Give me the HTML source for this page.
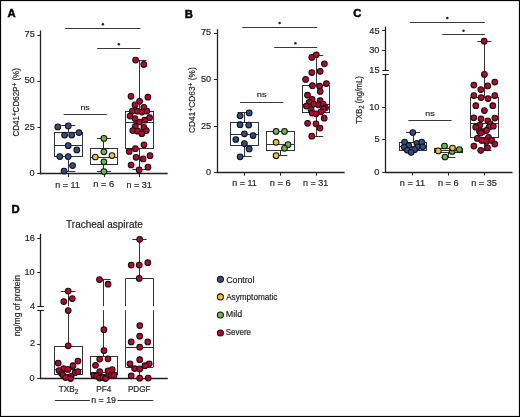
<!DOCTYPE html>
<html><head><meta charset="utf-8"><style>
html,body{margin:0;padding:0;background:#fff;}
body{width:520px;height:417px;overflow:hidden;}
svg{display:block;font-family:"Liberation Sans",sans-serif;will-change:transform;}
</style></head><body>
<svg width="520" height="417" viewBox="0 0 520 417">
<rect x="0.5" y="0.5" width="519" height="416" fill="#fff" stroke="#000" stroke-width="1.2"/>
<line x1="40.5" y1="30.5" x2="40.5" y2="174.4" stroke="#222" stroke-width="1.3"/>
<line x1="40.1" y1="173.5" x2="167.7" y2="173.5" stroke="#222" stroke-width="1.3"/>
<line x1="37.400000000000006" y1="173.5" x2="40.7" y2="173.5" stroke="#222" stroke-width="1"/>
<line x1="37.400000000000006" y1="127.5" x2="40.7" y2="127.5" stroke="#222" stroke-width="1"/>
<line x1="37.400000000000006" y1="81.5" x2="40.7" y2="81.5" stroke="#222" stroke-width="1"/>
<line x1="37.400000000000006" y1="35.5" x2="40.7" y2="35.5" stroke="#222" stroke-width="1"/>
<line x1="68.5" y1="173.8" x2="68.5" y2="177.10000000000002" stroke="#222" stroke-width="1"/>
<line x1="104.5" y1="173.8" x2="104.5" y2="177.10000000000002" stroke="#222" stroke-width="1"/>
<line x1="139.5" y1="173.8" x2="139.5" y2="177.10000000000002" stroke="#222" stroke-width="1"/>
<line x1="65.2" y1="28.5" x2="140.4" y2="28.5" stroke="#3a3a3a" stroke-width="1.2"/>
<circle cx="102.9" cy="24.3" r="1.25" fill="#222"/>
<line x1="97.2" y1="48.5" x2="140.4" y2="48.5" stroke="#3a3a3a" stroke-width="1.2"/>
<circle cx="118.8" cy="44.2" r="1.25" fill="#222"/>
<line x1="63.6" y1="114.5" x2="106.8" y2="114.5" stroke="#3a3a3a" stroke-width="1.2"/>
<line x1="68.5" y1="125.7" x2="68.5" y2="132.5" stroke="#333" stroke-width="1"/>
<line x1="68.5" y1="156.6" x2="68.5" y2="171.1" stroke="#333" stroke-width="1"/>
<line x1="61.3" y1="125.5" x2="75.3" y2="125.5" stroke="#333" stroke-width="1"/>
<line x1="61.3" y1="171.5" x2="75.3" y2="171.5" stroke="#333" stroke-width="1"/>
<rect x="54.5" y="132.5" width="28.00" height="24.00" fill="none" stroke="#333" stroke-width="1"/>
<line x1="54.599999999999994" y1="145.5" x2="82.0" y2="145.5" stroke="#333" stroke-width="1"/>
<circle cx="57.8" cy="126.9" r="2.85" fill="#2c4e8e" stroke="#111" stroke-width="1.05"/>
<circle cx="68.2" cy="125.9" r="2.85" fill="#2c4e8e" stroke="#111" stroke-width="1.05"/>
<circle cx="79" cy="132.6" r="2.85" fill="#2c4e8e" stroke="#111" stroke-width="1.05"/>
<circle cx="64.6" cy="135.1" r="2.85" fill="#2c4e8e" stroke="#111" stroke-width="1.05"/>
<circle cx="71.7" cy="135.1" r="2.85" fill="#2c4e8e" stroke="#111" stroke-width="1.05"/>
<circle cx="68.2" cy="145.7" r="2.85" fill="#2c4e8e" stroke="#111" stroke-width="1.05"/>
<circle cx="76.8" cy="149.9" r="2.85" fill="#2c4e8e" stroke="#111" stroke-width="1.05"/>
<circle cx="59.8" cy="156.6" r="2.85" fill="#2c4e8e" stroke="#111" stroke-width="1.05"/>
<circle cx="68.2" cy="156.6" r="2.85" fill="#2c4e8e" stroke="#111" stroke-width="1.05"/>
<circle cx="72.6" cy="165.6" r="2.85" fill="#2c4e8e" stroke="#111" stroke-width="1.05"/>
<circle cx="64" cy="171" r="2.85" fill="#2c4e8e" stroke="#111" stroke-width="1.05"/>
<line x1="103.5" y1="138.4" x2="103.5" y2="148.4" stroke="#333" stroke-width="1"/>
<line x1="103.5" y1="164.3" x2="103.5" y2="171.6" stroke="#333" stroke-width="1"/>
<line x1="96.9" y1="138.5" x2="110.9" y2="138.5" stroke="#333" stroke-width="1"/>
<line x1="96.9" y1="171.5" x2="110.9" y2="171.5" stroke="#333" stroke-width="1"/>
<rect x="90.5" y="148.5" width="27.00" height="16.00" fill="none" stroke="#333" stroke-width="1"/>
<line x1="90.2" y1="157.5" x2="117.60000000000001" y2="157.5" stroke="#333" stroke-width="1"/>
<circle cx="103.9" cy="138.4" r="2.85" fill="#6cb944" stroke="#111" stroke-width="1.05"/>
<circle cx="103.9" cy="151.8" r="2.85" fill="#6cb944" stroke="#111" stroke-width="1.05"/>
<circle cx="103.9" cy="161.8" r="2.85" fill="#6cb944" stroke="#111" stroke-width="1.05"/>
<circle cx="103.9" cy="171.6" r="2.85" fill="#6cb944" stroke="#111" stroke-width="1.05"/>
<circle cx="95.3" cy="157" r="2.85" fill="#f3c418" stroke="#111" stroke-width="1.05"/>
<circle cx="112" cy="155.6" r="2.85" fill="#f3c418" stroke="#111" stroke-width="1.05"/>
<line x1="139.5" y1="60.4" x2="139.5" y2="111.2" stroke="#333" stroke-width="1"/>
<line x1="139.5" y1="148.5" x2="139.5" y2="169.9" stroke="#333" stroke-width="1"/>
<line x1="132.5" y1="60.5" x2="146.5" y2="60.5" stroke="#333" stroke-width="1"/>
<line x1="132.5" y1="169.5" x2="146.5" y2="169.5" stroke="#333" stroke-width="1"/>
<rect x="125.5" y="111.5" width="28.00" height="37.00" fill="none" stroke="#333" stroke-width="1"/>
<line x1="125.8" y1="122.5" x2="153.2" y2="122.5" stroke="#333" stroke-width="1"/>
<circle cx="135.6" cy="60.1" r="2.85" fill="#be012d" stroke="#111" stroke-width="1.05"/>
<circle cx="143.8" cy="64.4" r="2.85" fill="#be012d" stroke="#111" stroke-width="1.05"/>
<circle cx="131" cy="96.3" r="2.85" fill="#be012d" stroke="#111" stroke-width="1.05"/>
<circle cx="147.9" cy="97.2" r="2.85" fill="#be012d" stroke="#111" stroke-width="1.05"/>
<circle cx="139.6" cy="101.3" r="2.85" fill="#be012d" stroke="#111" stroke-width="1.05"/>
<circle cx="135" cy="104.9" r="2.85" fill="#be012d" stroke="#111" stroke-width="1.05"/>
<circle cx="143.9" cy="107.4" r="2.85" fill="#be012d" stroke="#111" stroke-width="1.05"/>
<circle cx="132.3" cy="111" r="2.85" fill="#be012d" stroke="#111" stroke-width="1.05"/>
<circle cx="137.5" cy="111.2" r="2.85" fill="#be012d" stroke="#111" stroke-width="1.05"/>
<circle cx="142" cy="112.1" r="2.85" fill="#be012d" stroke="#111" stroke-width="1.05"/>
<circle cx="146.9" cy="111.2" r="2.85" fill="#be012d" stroke="#111" stroke-width="1.05"/>
<circle cx="130.1" cy="116.1" r="2.85" fill="#be012d" stroke="#111" stroke-width="1.05"/>
<circle cx="135" cy="118.5" r="2.85" fill="#be012d" stroke="#111" stroke-width="1.05"/>
<circle cx="149.6" cy="117.7" r="2.85" fill="#be012d" stroke="#111" stroke-width="1.05"/>
<circle cx="144.7" cy="120.2" r="2.85" fill="#be012d" stroke="#111" stroke-width="1.05"/>
<circle cx="139.6" cy="122" r="2.85" fill="#be012d" stroke="#111" stroke-width="1.05"/>
<circle cx="135.3" cy="126.3" r="2.85" fill="#be012d" stroke="#111" stroke-width="1.05"/>
<circle cx="143.9" cy="127.4" r="2.85" fill="#be012d" stroke="#111" stroke-width="1.05"/>
<circle cx="132.8" cy="130.6" r="2.85" fill="#be012d" stroke="#111" stroke-width="1.05"/>
<circle cx="137.7" cy="131.2" r="2.85" fill="#be012d" stroke="#111" stroke-width="1.05"/>
<circle cx="146.3" cy="130.6" r="2.85" fill="#be012d" stroke="#111" stroke-width="1.05"/>
<circle cx="141.8" cy="133.7" r="2.85" fill="#be012d" stroke="#111" stroke-width="1.05"/>
<circle cx="144" cy="144.8" r="2.85" fill="#be012d" stroke="#111" stroke-width="1.05"/>
<circle cx="135.4" cy="148.7" r="2.85" fill="#be012d" stroke="#111" stroke-width="1.05"/>
<circle cx="129.2" cy="151.4" r="2.85" fill="#be012d" stroke="#111" stroke-width="1.05"/>
<circle cx="136.1" cy="157.3" r="2.85" fill="#be012d" stroke="#111" stroke-width="1.05"/>
<circle cx="143.1" cy="158.9" r="2.85" fill="#be012d" stroke="#111" stroke-width="1.05"/>
<circle cx="150" cy="155.7" r="2.85" fill="#be012d" stroke="#111" stroke-width="1.05"/>
<circle cx="131.1" cy="165" r="2.85" fill="#be012d" stroke="#111" stroke-width="1.05"/>
<circle cx="148" cy="167.2" r="2.85" fill="#be012d" stroke="#111" stroke-width="1.05"/>
<circle cx="139.1" cy="169.9" r="2.85" fill="#be012d" stroke="#111" stroke-width="1.05"/>
<line x1="217.5" y1="29.2" x2="217.5" y2="173" stroke="#222" stroke-width="1.3"/>
<line x1="216.70000000000002" y1="172.5" x2="344.6" y2="172.5" stroke="#222" stroke-width="1.3"/>
<line x1="214.0" y1="172.5" x2="217.3" y2="172.5" stroke="#222" stroke-width="1"/>
<line x1="214.0" y1="126.5" x2="217.3" y2="126.5" stroke="#222" stroke-width="1"/>
<line x1="214.0" y1="79.5" x2="217.3" y2="79.5" stroke="#222" stroke-width="1"/>
<line x1="214.0" y1="33.5" x2="217.3" y2="33.5" stroke="#222" stroke-width="1"/>
<line x1="244.5" y1="172.4" x2="244.5" y2="175.70000000000002" stroke="#222" stroke-width="1"/>
<line x1="280.5" y1="172.4" x2="280.5" y2="175.70000000000002" stroke="#222" stroke-width="1"/>
<line x1="316.5" y1="172.4" x2="316.5" y2="175.70000000000002" stroke="#222" stroke-width="1"/>
<line x1="242.3" y1="27.5" x2="317.2" y2="27.5" stroke="#3a3a3a" stroke-width="1.2"/>
<circle cx="279.6" cy="23.05" r="1.25" fill="#222"/>
<line x1="274.2" y1="47.5" x2="317.2" y2="47.5" stroke="#3a3a3a" stroke-width="1.2"/>
<circle cx="295.4" cy="43.2" r="1.25" fill="#222"/>
<line x1="240.1" y1="102.5" x2="283.3" y2="102.5" stroke="#3a3a3a" stroke-width="1.2"/>
<line x1="244.5" y1="112.9" x2="244.5" y2="122.3" stroke="#333" stroke-width="1"/>
<line x1="244.5" y1="145.2" x2="244.5" y2="156.6" stroke="#333" stroke-width="1"/>
<line x1="237.6" y1="112.5" x2="251.6" y2="112.5" stroke="#333" stroke-width="1"/>
<line x1="237.6" y1="156.5" x2="251.6" y2="156.5" stroke="#333" stroke-width="1"/>
<rect x="230.5" y="122.5" width="28.00" height="23.00" fill="none" stroke="#333" stroke-width="1"/>
<line x1="230.9" y1="134.5" x2="258.3" y2="134.5" stroke="#333" stroke-width="1"/>
<circle cx="240.1" cy="115.8" r="2.85" fill="#2c4e8e" stroke="#111" stroke-width="1.05"/>
<circle cx="249.2" cy="112.9" r="2.85" fill="#2c4e8e" stroke="#111" stroke-width="1.05"/>
<circle cx="240.1" cy="124.7" r="2.85" fill="#2c4e8e" stroke="#111" stroke-width="1.05"/>
<circle cx="248.7" cy="125.1" r="2.85" fill="#2c4e8e" stroke="#111" stroke-width="1.05"/>
<circle cx="244.4" cy="133.8" r="2.85" fill="#2c4e8e" stroke="#111" stroke-width="1.05"/>
<circle cx="253.1" cy="135.6" r="2.85" fill="#2c4e8e" stroke="#111" stroke-width="1.05"/>
<circle cx="235.8" cy="139.5" r="2.85" fill="#2c4e8e" stroke="#111" stroke-width="1.05"/>
<circle cx="244.4" cy="143.6" r="2.85" fill="#2c4e8e" stroke="#111" stroke-width="1.05"/>
<circle cx="249.2" cy="148.9" r="2.85" fill="#2c4e8e" stroke="#111" stroke-width="1.05"/>
<circle cx="240.1" cy="156.8" r="2.85" fill="#2c4e8e" stroke="#111" stroke-width="1.05"/>
<line x1="280.4" y1="131.5" x2="280.4" y2="131.5" stroke="#333" stroke-width="1"/>
<line x1="280.5" y1="150" x2="280.5" y2="155.7" stroke="#333" stroke-width="1"/>
<line x1="273.4" y1="131.5" x2="287.4" y2="131.5" stroke="#333" stroke-width="1"/>
<line x1="273.4" y1="155.5" x2="287.4" y2="155.5" stroke="#333" stroke-width="1"/>
<rect x="266.5" y="131.5" width="28.00" height="19.00" fill="none" stroke="#333" stroke-width="1"/>
<line x1="266.7" y1="144.5" x2="294.09999999999997" y2="144.5" stroke="#333" stroke-width="1"/>
<circle cx="276.1" cy="131.4" r="2.85" fill="#6cb944" stroke="#111" stroke-width="1.05"/>
<circle cx="284.5" cy="131.4" r="2.85" fill="#6cb944" stroke="#111" stroke-width="1.05"/>
<circle cx="288" cy="144.7" r="2.85" fill="#6cb944" stroke="#111" stroke-width="1.05"/>
<circle cx="284.5" cy="148.3" r="2.85" fill="#6cb944" stroke="#111" stroke-width="1.05"/>
<circle cx="276.1" cy="142.3" r="2.85" fill="#f3c418" stroke="#111" stroke-width="1.05"/>
<circle cx="276.1" cy="155.7" r="2.85" fill="#f3c418" stroke="#111" stroke-width="1.05"/>
<line x1="316.5" y1="55" x2="316.5" y2="85.7" stroke="#333" stroke-width="1"/>
<line x1="316.5" y1="112.2" x2="316.5" y2="136.2" stroke="#333" stroke-width="1"/>
<line x1="309.2" y1="55.5" x2="323.2" y2="55.5" stroke="#333" stroke-width="1"/>
<line x1="309.2" y1="136.5" x2="323.2" y2="136.5" stroke="#333" stroke-width="1"/>
<rect x="302.5" y="85.5" width="27.00" height="27.00" fill="none" stroke="#333" stroke-width="1"/>
<line x1="302.5" y1="104.5" x2="329.9" y2="104.5" stroke="#333" stroke-width="1"/>
<circle cx="311.8" cy="57.4" r="2.85" fill="#be012d" stroke="#111" stroke-width="1.05"/>
<circle cx="316.3" cy="54.8" r="2.85" fill="#be012d" stroke="#111" stroke-width="1.05"/>
<circle cx="324.4" cy="63.8" r="2.85" fill="#be012d" stroke="#111" stroke-width="1.05"/>
<circle cx="311.8" cy="72.5" r="2.85" fill="#be012d" stroke="#111" stroke-width="1.05"/>
<circle cx="320.2" cy="71.3" r="2.85" fill="#be012d" stroke="#111" stroke-width="1.05"/>
<circle cx="305.6" cy="79.4" r="2.85" fill="#be012d" stroke="#111" stroke-width="1.05"/>
<circle cx="326.4" cy="83.6" r="2.85" fill="#be012d" stroke="#111" stroke-width="1.05"/>
<circle cx="312.4" cy="85.7" r="2.85" fill="#be012d" stroke="#111" stroke-width="1.05"/>
<circle cx="319.6" cy="86.2" r="2.85" fill="#be012d" stroke="#111" stroke-width="1.05"/>
<circle cx="320.2" cy="91.4" r="2.85" fill="#be012d" stroke="#111" stroke-width="1.05"/>
<circle cx="307.5" cy="95.2" r="2.85" fill="#be012d" stroke="#111" stroke-width="1.05"/>
<circle cx="312.1" cy="99.4" r="2.85" fill="#be012d" stroke="#111" stroke-width="1.05"/>
<circle cx="320.1" cy="100.7" r="2.85" fill="#be012d" stroke="#111" stroke-width="1.05"/>
<circle cx="309.1" cy="102.4" r="2.85" fill="#be012d" stroke="#111" stroke-width="1.05"/>
<circle cx="313.8" cy="104.1" r="2.85" fill="#be012d" stroke="#111" stroke-width="1.05"/>
<circle cx="318.5" cy="104.8" r="2.85" fill="#be012d" stroke="#111" stroke-width="1.05"/>
<circle cx="323.2" cy="104.1" r="2.85" fill="#be012d" stroke="#111" stroke-width="1.05"/>
<circle cx="306.4" cy="106.1" r="2.85" fill="#be012d" stroke="#111" stroke-width="1.05"/>
<circle cx="325.5" cy="107.8" r="2.85" fill="#be012d" stroke="#111" stroke-width="1.05"/>
<circle cx="311.1" cy="109.4" r="2.85" fill="#be012d" stroke="#111" stroke-width="1.05"/>
<circle cx="323.5" cy="108.8" r="2.85" fill="#be012d" stroke="#111" stroke-width="1.05"/>
<circle cx="321.1" cy="111.8" r="2.85" fill="#be012d" stroke="#111" stroke-width="1.05"/>
<circle cx="312.1" cy="113.1" r="2.85" fill="#be012d" stroke="#111" stroke-width="1.05"/>
<circle cx="316.1" cy="113.8" r="2.85" fill="#be012d" stroke="#111" stroke-width="1.05"/>
<circle cx="324.2" cy="118.2" r="2.85" fill="#be012d" stroke="#111" stroke-width="1.05"/>
<circle cx="307.6" cy="123.3" r="2.85" fill="#be012d" stroke="#111" stroke-width="1.05"/>
<circle cx="316" cy="123.8" r="2.85" fill="#be012d" stroke="#111" stroke-width="1.05"/>
<circle cx="320" cy="128.1" r="2.85" fill="#be012d" stroke="#111" stroke-width="1.05"/>
<circle cx="311.8" cy="136.2" r="2.85" fill="#be012d" stroke="#111" stroke-width="1.05"/>
<line x1="385.5" y1="26.6" x2="385.5" y2="70.6" stroke="#222" stroke-width="1.3"/>
<line x1="385.5" y1="74.5" x2="385.5" y2="172.8" stroke="#222" stroke-width="1.3"/>
<line x1="382.4" y1="70.5" x2="388.8" y2="70.5" stroke="#222" stroke-width="1.1"/>
<line x1="382.4" y1="74.5" x2="388.8" y2="74.5" stroke="#222" stroke-width="1.1"/>
<line x1="384.9" y1="172.5" x2="512.5" y2="172.5" stroke="#222" stroke-width="1.3"/>
<line x1="382.2" y1="30.5" x2="385.5" y2="30.5" stroke="#222" stroke-width="1"/>
<line x1="382.2" y1="50.5" x2="385.5" y2="50.5" stroke="#222" stroke-width="1"/>
<line x1="382.2" y1="107.5" x2="385.5" y2="107.5" stroke="#222" stroke-width="1"/>
<line x1="382.2" y1="139.5" x2="385.5" y2="139.5" stroke="#222" stroke-width="1"/>
<line x1="382.2" y1="172.5" x2="385.5" y2="172.5" stroke="#222" stroke-width="1"/>
<line x1="412.5" y1="172.2" x2="412.5" y2="175.5" stroke="#222" stroke-width="1"/>
<line x1="448.5" y1="172.2" x2="448.5" y2="175.5" stroke="#222" stroke-width="1"/>
<line x1="484.5" y1="172.2" x2="484.5" y2="175.5" stroke="#222" stroke-width="1"/>
<line x1="409.9" y1="22.5" x2="484.9" y2="22.5" stroke="#3a3a3a" stroke-width="1.2"/>
<circle cx="447.3" cy="18.1" r="1.25" fill="#222"/>
<line x1="442.2" y1="34.5" x2="484.9" y2="34.5" stroke="#3a3a3a" stroke-width="1.2"/>
<circle cx="463.5" cy="30.8" r="1.25" fill="#222"/>
<line x1="408.4" y1="120.5" x2="451.6" y2="120.5" stroke="#3a3a3a" stroke-width="1.2"/>
<line x1="413.5" y1="132.5" x2="413.5" y2="142.3" stroke="#333" stroke-width="1"/>
<line x1="413" y1="150.5" x2="413" y2="150.5" stroke="#333" stroke-width="1"/>
<line x1="406" y1="132.5" x2="420" y2="132.5" stroke="#333" stroke-width="1"/>
<line x1="406" y1="150.5" x2="420" y2="150.5" stroke="#333" stroke-width="1"/>
<rect x="399.5" y="142.5" width="27.00" height="8.00" fill="none" stroke="#333" stroke-width="1"/>
<line x1="399.3" y1="146.5" x2="426.7" y2="146.5" stroke="#333" stroke-width="1"/>
<circle cx="412.8" cy="132.5" r="2.85" fill="#2c4e8e" stroke="#111" stroke-width="1.05"/>
<circle cx="404.6" cy="142.2" r="2.85" fill="#2c4e8e" stroke="#111" stroke-width="1.05"/>
<circle cx="417" cy="143.4" r="2.85" fill="#2c4e8e" stroke="#111" stroke-width="1.05"/>
<circle cx="421.7" cy="142.2" r="2.85" fill="#2c4e8e" stroke="#111" stroke-width="1.05"/>
<circle cx="408.8" cy="145.5" r="2.85" fill="#2c4e8e" stroke="#111" stroke-width="1.05"/>
<circle cx="404.1" cy="147" r="2.85" fill="#2c4e8e" stroke="#111" stroke-width="1.05"/>
<circle cx="417.6" cy="146.8" r="2.85" fill="#2c4e8e" stroke="#111" stroke-width="1.05"/>
<circle cx="422.7" cy="146.8" r="2.85" fill="#2c4e8e" stroke="#111" stroke-width="1.05"/>
<circle cx="407.4" cy="150.2" r="2.85" fill="#2c4e8e" stroke="#111" stroke-width="1.05"/>
<circle cx="414.5" cy="149.7" r="2.85" fill="#2c4e8e" stroke="#111" stroke-width="1.05"/>
<circle cx="411.1" cy="152.3" r="2.85" fill="#2c4e8e" stroke="#111" stroke-width="1.05"/>
<line x1="448.3" y1="148.5" x2="448.3" y2="148.5" stroke="#333" stroke-width="1"/>
<line x1="448.5" y1="152.8" x2="448.5" y2="157" stroke="#333" stroke-width="1"/>
<line x1="441.3" y1="148.5" x2="455.3" y2="148.5" stroke="#333" stroke-width="1"/>
<line x1="441.3" y1="157.5" x2="455.3" y2="157.5" stroke="#333" stroke-width="1"/>
<rect x="434.5" y="148.5" width="28.00" height="4.00" fill="none" stroke="#333" stroke-width="1"/>
<line x1="434.6" y1="150.5" x2="462.0" y2="150.5" stroke="#333" stroke-width="1"/>
<circle cx="444.5" cy="146" r="2.85" fill="#6cb944" stroke="#111" stroke-width="1.05"/>
<circle cx="452.1" cy="151.4" r="2.85" fill="#6cb944" stroke="#111" stroke-width="1.05"/>
<circle cx="459.4" cy="149.5" r="2.85" fill="#6cb944" stroke="#111" stroke-width="1.05"/>
<circle cx="445" cy="157" r="2.85" fill="#6cb944" stroke="#111" stroke-width="1.05"/>
<circle cx="438.3" cy="150.9" r="2.85" fill="#f3c418" stroke="#111" stroke-width="1.05"/>
<circle cx="452.5" cy="148" r="2.85" fill="#f3c418" stroke="#111" stroke-width="1.05"/>
<line x1="484.5" y1="41.2" x2="484.5" y2="97.6" stroke="#333" stroke-width="1"/>
<line x1="484.5" y1="137.3" x2="484.5" y2="150.2" stroke="#333" stroke-width="1"/>
<line x1="477.4" y1="41.5" x2="491.4" y2="41.5" stroke="#333" stroke-width="1"/>
<line x1="477.4" y1="150.5" x2="491.4" y2="150.5" stroke="#333" stroke-width="1"/>
<rect x="470.5" y="97.5" width="28.00" height="40.00" fill="none" stroke="#333" stroke-width="1"/>
<line x1="470.7" y1="123.5" x2="498.09999999999997" y2="123.5" stroke="#333" stroke-width="1"/>
<circle cx="484.2" cy="41.2" r="2.85" fill="#be012d" stroke="#111" stroke-width="1.05"/>
<circle cx="484.4" cy="74.4" r="2.85" fill="#be012d" stroke="#111" stroke-width="1.05"/>
<circle cx="473.9" cy="85.1" r="2.85" fill="#be012d" stroke="#111" stroke-width="1.05"/>
<circle cx="494.8" cy="82" r="2.85" fill="#be012d" stroke="#111" stroke-width="1.05"/>
<circle cx="487.7" cy="85.9" r="2.85" fill="#be012d" stroke="#111" stroke-width="1.05"/>
<circle cx="480.8" cy="89.5" r="2.85" fill="#be012d" stroke="#111" stroke-width="1.05"/>
<circle cx="473.9" cy="95.6" r="2.85" fill="#be012d" stroke="#111" stroke-width="1.05"/>
<circle cx="481.1" cy="97.6" r="2.85" fill="#be012d" stroke="#111" stroke-width="1.05"/>
<circle cx="488" cy="98.5" r="2.85" fill="#be012d" stroke="#111" stroke-width="1.05"/>
<circle cx="494.8" cy="95.6" r="2.85" fill="#be012d" stroke="#111" stroke-width="1.05"/>
<circle cx="475.8" cy="105.7" r="2.85" fill="#be012d" stroke="#111" stroke-width="1.05"/>
<circle cx="492.8" cy="105.7" r="2.85" fill="#be012d" stroke="#111" stroke-width="1.05"/>
<circle cx="484.4" cy="110.6" r="2.85" fill="#be012d" stroke="#111" stroke-width="1.05"/>
<circle cx="473.8" cy="117.8" r="2.85" fill="#be012d" stroke="#111" stroke-width="1.05"/>
<circle cx="481" cy="118.8" r="2.85" fill="#be012d" stroke="#111" stroke-width="1.05"/>
<circle cx="494.9" cy="118" r="2.85" fill="#be012d" stroke="#111" stroke-width="1.05"/>
<circle cx="487.8" cy="120.8" r="2.85" fill="#be012d" stroke="#111" stroke-width="1.05"/>
<circle cx="490.3" cy="123.9" r="2.85" fill="#be012d" stroke="#111" stroke-width="1.05"/>
<circle cx="479.9" cy="125" r="2.85" fill="#be012d" stroke="#111" stroke-width="1.05"/>
<circle cx="475.7" cy="127.2" r="2.85" fill="#be012d" stroke="#111" stroke-width="1.05"/>
<circle cx="489.1" cy="127" r="2.85" fill="#be012d" stroke="#111" stroke-width="1.05"/>
<circle cx="493.3" cy="126.2" r="2.85" fill="#be012d" stroke="#111" stroke-width="1.05"/>
<circle cx="479.5" cy="131.2" r="2.85" fill="#be012d" stroke="#111" stroke-width="1.05"/>
<circle cx="483" cy="131.6" r="2.85" fill="#be012d" stroke="#111" stroke-width="1.05"/>
<circle cx="486.4" cy="130.4" r="2.85" fill="#be012d" stroke="#111" stroke-width="1.05"/>
<circle cx="480.7" cy="133.1" r="2.85" fill="#be012d" stroke="#111" stroke-width="1.05"/>
<circle cx="488.5" cy="137.4" r="2.85" fill="#be012d" stroke="#111" stroke-width="1.05"/>
<circle cx="477.3" cy="138.4" r="2.85" fill="#be012d" stroke="#111" stroke-width="1.05"/>
<circle cx="481.8" cy="140.4" r="2.85" fill="#be012d" stroke="#111" stroke-width="1.05"/>
<circle cx="486.5" cy="141.4" r="2.85" fill="#be012d" stroke="#111" stroke-width="1.05"/>
<circle cx="491.8" cy="140.4" r="2.85" fill="#be012d" stroke="#111" stroke-width="1.05"/>
<circle cx="494.8" cy="144.1" r="2.85" fill="#be012d" stroke="#111" stroke-width="1.05"/>
<circle cx="473.9" cy="146.1" r="2.85" fill="#be012d" stroke="#111" stroke-width="1.05"/>
<circle cx="480.8" cy="150.3" r="2.85" fill="#be012d" stroke="#111" stroke-width="1.05"/>
<circle cx="487.5" cy="147.8" r="2.85" fill="#be012d" stroke="#111" stroke-width="1.05"/>
<line x1="40.5" y1="233.8" x2="40.5" y2="306.8" stroke="#222" stroke-width="1.3"/>
<line x1="40.5" y1="310.2" x2="40.5" y2="378.9" stroke="#222" stroke-width="1.3"/>
<line x1="37.3" y1="306.5" x2="43.9" y2="306.5" stroke="#222" stroke-width="1.1"/>
<line x1="37.3" y1="310.5" x2="43.9" y2="310.5" stroke="#222" stroke-width="1.1"/>
<line x1="39.9" y1="378.5" x2="167.8" y2="378.5" stroke="#222" stroke-width="1.3"/>
<line x1="37.2" y1="238.5" x2="40.5" y2="238.5" stroke="#222" stroke-width="1"/>
<line x1="37.2" y1="272.5" x2="40.5" y2="272.5" stroke="#222" stroke-width="1"/>
<line x1="37.2" y1="344.5" x2="40.5" y2="344.5" stroke="#222" stroke-width="1"/>
<line x1="37.2" y1="378.5" x2="40.5" y2="378.5" stroke="#222" stroke-width="1"/>
<line x1="54.9" y1="400.5" x2="89.8" y2="400.5" stroke="#333" stroke-width="1.1"/>
<line x1="117.6" y1="400.5" x2="153.3" y2="400.5" stroke="#333" stroke-width="1.1"/>
<line x1="60.8" y1="291.5" x2="75.6" y2="291.5" stroke="#333" stroke-width="1"/>
<line x1="68.5" y1="291.1" x2="68.5" y2="306.3" stroke="#333" stroke-width="1"/>
<line x1="68.5" y1="310.2" x2="68.5" y2="346.5" stroke="#333" stroke-width="1"/>
<rect x="54.5" y="346.5" width="28.00" height="28.00" fill="none" stroke="#333" stroke-width="1"/>
<line x1="54.3" y1="369.5" x2="82" y2="369.5" stroke="#333" stroke-width="1"/>
<circle cx="68.2" cy="291.1" r="2.85" fill="#be012d" stroke="#111" stroke-width="1.05"/>
<circle cx="72.3" cy="298.5" r="2.85" fill="#be012d" stroke="#111" stroke-width="1.05"/>
<circle cx="63.8" cy="301.5" r="2.85" fill="#be012d" stroke="#111" stroke-width="1.05"/>
<circle cx="68.2" cy="310.5" r="2.85" fill="#be012d" stroke="#111" stroke-width="1.05"/>
<circle cx="68.2" cy="345.8" r="2.85" fill="#be012d" stroke="#111" stroke-width="1.05"/>
<circle cx="58.2" cy="363" r="2.85" fill="#be012d" stroke="#111" stroke-width="1.05"/>
<circle cx="78" cy="361.1" r="2.85" fill="#be012d" stroke="#111" stroke-width="1.05"/>
<circle cx="73" cy="365.7" r="2.85" fill="#be012d" stroke="#111" stroke-width="1.05"/>
<circle cx="63.5" cy="368.5" r="2.85" fill="#be012d" stroke="#111" stroke-width="1.05"/>
<circle cx="68" cy="369.4" r="2.85" fill="#be012d" stroke="#111" stroke-width="1.05"/>
<circle cx="59" cy="370.6" r="2.85" fill="#be012d" stroke="#111" stroke-width="1.05"/>
<circle cx="75.1" cy="372.7" r="2.85" fill="#be012d" stroke="#111" stroke-width="1.05"/>
<circle cx="78" cy="371.7" r="2.85" fill="#be012d" stroke="#111" stroke-width="1.05"/>
<circle cx="61.6" cy="373.6" r="2.85" fill="#be012d" stroke="#111" stroke-width="1.05"/>
<circle cx="63" cy="375" r="2.85" fill="#be012d" stroke="#111" stroke-width="1.05"/>
<circle cx="65.6" cy="377.5" r="2.85" fill="#be012d" stroke="#111" stroke-width="1.05"/>
<circle cx="71.1" cy="376.4" r="2.85" fill="#be012d" stroke="#111" stroke-width="1.05"/>
<circle cx="70.6" cy="378.5" r="2.85" fill="#be012d" stroke="#111" stroke-width="1.05"/>
<line x1="96.8" y1="279.5" x2="110.6" y2="279.5" stroke="#333" stroke-width="1"/>
<line x1="103.5" y1="279.5" x2="103.5" y2="306.3" stroke="#333" stroke-width="1"/>
<line x1="103.5" y1="310.2" x2="103.5" y2="356.5" stroke="#333" stroke-width="1"/>
<rect x="90.5" y="356.5" width="27.00" height="18.00" fill="none" stroke="#333" stroke-width="1"/>
<line x1="90.3" y1="372.5" x2="117.8" y2="372.5" stroke="#333" stroke-width="1"/>
<circle cx="99.5" cy="279.5" r="2.85" fill="#be012d" stroke="#111" stroke-width="1.05"/>
<circle cx="108.1" cy="284.2" r="2.85" fill="#be012d" stroke="#111" stroke-width="1.05"/>
<circle cx="103.9" cy="329.7" r="2.85" fill="#be012d" stroke="#111" stroke-width="1.05"/>
<circle cx="104" cy="350.6" r="2.85" fill="#be012d" stroke="#111" stroke-width="1.05"/>
<circle cx="99.7" cy="359" r="2.85" fill="#be012d" stroke="#111" stroke-width="1.05"/>
<circle cx="108" cy="358.8" r="2.85" fill="#be012d" stroke="#111" stroke-width="1.05"/>
<circle cx="95.5" cy="365.3" r="2.85" fill="#be012d" stroke="#111" stroke-width="1.05"/>
<circle cx="99.7" cy="371.5" r="2.85" fill="#be012d" stroke="#111" stroke-width="1.05"/>
<circle cx="108" cy="370.8" r="2.85" fill="#be012d" stroke="#111" stroke-width="1.05"/>
<circle cx="112.2" cy="369.6" r="2.85" fill="#be012d" stroke="#111" stroke-width="1.05"/>
<circle cx="93.9" cy="375.4" r="2.85" fill="#be012d" stroke="#111" stroke-width="1.05"/>
<circle cx="96.6" cy="375.9" r="2.85" fill="#be012d" stroke="#111" stroke-width="1.05"/>
<circle cx="99.5" cy="378" r="2.85" fill="#be012d" stroke="#111" stroke-width="1.05"/>
<circle cx="102.9" cy="377.5" r="2.85" fill="#be012d" stroke="#111" stroke-width="1.05"/>
<circle cx="107.6" cy="376.4" r="2.85" fill="#be012d" stroke="#111" stroke-width="1.05"/>
<circle cx="111.3" cy="375.4" r="2.85" fill="#be012d" stroke="#111" stroke-width="1.05"/>
<circle cx="114" cy="375.4" r="2.85" fill="#be012d" stroke="#111" stroke-width="1.05"/>
<circle cx="105.5" cy="378.5" r="2.85" fill="#be012d" stroke="#111" stroke-width="1.05"/>
<line x1="132.3" y1="239.5" x2="146.6" y2="239.5" stroke="#333" stroke-width="1"/>
<line x1="139.5" y1="239.3" x2="139.5" y2="278.4" stroke="#333" stroke-width="1"/>
<line x1="125.9" y1="278.5" x2="153.1" y2="278.5" stroke="#333" stroke-width="1"/>
<line x1="125.5" y1="278.4" x2="125.5" y2="306.3" stroke="#333" stroke-width="1"/>
<line x1="153.5" y1="278.4" x2="153.5" y2="306.3" stroke="#333" stroke-width="1"/>
<line x1="125.5" y1="310.2" x2="125.5" y2="367.3" stroke="#333" stroke-width="1"/>
<line x1="153.5" y1="310.2" x2="153.5" y2="367.3" stroke="#333" stroke-width="1"/>
<line x1="125.9" y1="367.5" x2="153.1" y2="367.5" stroke="#333" stroke-width="1"/>
<line x1="125.9" y1="347.5" x2="153.1" y2="347.5" stroke="#333" stroke-width="1"/>
<line x1="139.5" y1="367.3" x2="139.5" y2="378" stroke="#333" stroke-width="1"/>
<circle cx="139.7" cy="239.3" r="2.85" fill="#be012d" stroke="#111" stroke-width="1.05"/>
<circle cx="131.2" cy="265" r="2.85" fill="#be012d" stroke="#111" stroke-width="1.05"/>
<circle cx="139.2" cy="265" r="2.85" fill="#be012d" stroke="#111" stroke-width="1.05"/>
<circle cx="147.8" cy="262.7" r="2.85" fill="#be012d" stroke="#111" stroke-width="1.05"/>
<circle cx="139.2" cy="278.4" r="2.85" fill="#be012d" stroke="#111" stroke-width="1.05"/>
<circle cx="139.8" cy="325.6" r="2.85" fill="#be012d" stroke="#111" stroke-width="1.05"/>
<circle cx="139.7" cy="336.2" r="2.85" fill="#be012d" stroke="#111" stroke-width="1.05"/>
<circle cx="131.2" cy="341.9" r="2.85" fill="#be012d" stroke="#111" stroke-width="1.05"/>
<circle cx="147.8" cy="341.9" r="2.85" fill="#be012d" stroke="#111" stroke-width="1.05"/>
<circle cx="139.7" cy="347.2" r="2.85" fill="#be012d" stroke="#111" stroke-width="1.05"/>
<circle cx="139.7" cy="359.7" r="2.85" fill="#be012d" stroke="#111" stroke-width="1.05"/>
<circle cx="130" cy="363.8" r="2.85" fill="#be012d" stroke="#111" stroke-width="1.05"/>
<circle cx="149.2" cy="363.8" r="2.85" fill="#be012d" stroke="#111" stroke-width="1.05"/>
<circle cx="134.6" cy="368.5" r="2.85" fill="#be012d" stroke="#111" stroke-width="1.05"/>
<circle cx="139.7" cy="368.9" r="2.85" fill="#be012d" stroke="#111" stroke-width="1.05"/>
<circle cx="145" cy="365.7" r="2.85" fill="#be012d" stroke="#111" stroke-width="1.05"/>
<circle cx="131.2" cy="375.8" r="2.85" fill="#be012d" stroke="#111" stroke-width="1.05"/>
<circle cx="139.7" cy="378.2" r="2.85" fill="#be012d" stroke="#111" stroke-width="1.05"/>
<circle cx="148.2" cy="378" r="2.85" fill="#be012d" stroke="#111" stroke-width="1.05"/>
<circle cx="220.4" cy="279.3" r="3.0500000000000003" fill="#2c4e8e" stroke="#111" stroke-width="1.05"/>
<circle cx="220.4" cy="296.9" r="3.0500000000000003" fill="#f3c418" stroke="#111" stroke-width="1.05"/>
<circle cx="220.4" cy="315" r="3.0500000000000003" fill="#6cb944" stroke="#111" stroke-width="1.05"/>
<circle cx="220.4" cy="333" r="3.0500000000000003" fill="#be012d" stroke="#111" stroke-width="1.05"/>
<text id="lA" x="7.60" y="17.40" font-size="11.30" text-anchor="start" font-weight="bold" fill="#000" stroke="#000" stroke-width="0.45">A</text>
<text id="lB" x="184.70" y="17.60" font-size="11.30" text-anchor="start" font-weight="bold" fill="#000" stroke="#000" stroke-width="0.45">B</text>
<text id="lC" x="353.20" y="17.40" font-size="11.30" text-anchor="start" font-weight="bold" fill="#000" stroke="#000" stroke-width="0.45">C</text>
<text id="lD" x="11.50" y="213.40" font-size="11.30" text-anchor="start" font-weight="bold" fill="#000" stroke="#000" stroke-width="0.45">D</text>
<text id="tA0" x="34.72" y="175.62" font-size="9.20" text-anchor="end" font-weight="normal" fill="#262626" stroke="#262626" stroke-width="0.18">0</text>
<text id="tA25" x="34.81" y="129.70" font-size="9.20" text-anchor="end" font-weight="normal" fill="#262626" stroke="#262626" stroke-width="0.18">25</text>
<text id="tA50" x="34.72" y="83.05" font-size="9.20" text-anchor="end" font-weight="normal" fill="#262626" stroke="#262626" stroke-width="0.18">50</text>
<text id="tA75" x="34.81" y="37.40" font-size="9.20" text-anchor="end" font-weight="normal" fill="#262626" stroke="#262626" stroke-width="0.18">75</text>
<text id="tB0" x="211.14" y="175.11" font-size="9.20" text-anchor="end" font-weight="normal" fill="#262626" stroke="#262626" stroke-width="0.18">0</text>
<text id="tB25" x="211.14" y="128.51" font-size="9.20" text-anchor="end" font-weight="normal" fill="#262626" stroke="#262626" stroke-width="0.18">25</text>
<text id="tB50" x="211.14" y="81.81" font-size="9.20" text-anchor="end" font-weight="normal" fill="#262626" stroke="#262626" stroke-width="0.18">50</text>
<text id="tB75" x="211.14" y="35.45" font-size="9.20" text-anchor="end" font-weight="normal" fill="#262626" stroke="#262626" stroke-width="0.18">75</text>
<text id="tC45" x="379.58" y="33.59" font-size="9.20" text-anchor="end" font-weight="normal" fill="#262626" stroke="#262626" stroke-width="0.18">45</text>
<text id="tC30" x="379.49" y="53.12" font-size="9.20" text-anchor="end" font-weight="normal" fill="#262626" stroke="#262626" stroke-width="0.18">30</text>
<text id="tC15" x="379.58" y="72.87" font-size="9.20" text-anchor="end" font-weight="normal" fill="#262626" stroke="#262626" stroke-width="0.18">15</text>
<text id="tC10" x="379.49" y="109.63" font-size="9.20" text-anchor="end" font-weight="normal" fill="#262626" stroke="#262626" stroke-width="0.18">10</text>
<text id="tC5" x="379.58" y="142.29" font-size="9.20" text-anchor="end" font-weight="normal" fill="#262626" stroke="#262626" stroke-width="0.18">5</text>
<text id="tC0" x="379.49" y="174.62" font-size="9.20" text-anchor="end" font-weight="normal" fill="#262626" stroke="#262626" stroke-width="0.18">0</text>
<text id="tD16" x="34.98" y="240.58" font-size="9.20" text-anchor="end" font-weight="normal" fill="#262626" stroke="#262626" stroke-width="0.18">16</text>
<text id="tD10" x="34.73" y="274.91" font-size="9.20" text-anchor="end" font-weight="normal" fill="#262626" stroke="#262626" stroke-width="0.18">10</text>
<text id="tD4" x="35.04" y="308.92" font-size="9.20" text-anchor="end" font-weight="normal" fill="#262626" stroke="#262626" stroke-width="0.18">4</text>
<text id="tD2" x="35.01" y="346.20" font-size="9.20" text-anchor="end" font-weight="normal" fill="#262626" stroke="#262626" stroke-width="0.18">2</text>
<text id="tD0" x="34.73" y="381.01" font-size="9.20" text-anchor="end" font-weight="normal" fill="#262626" stroke="#262626" stroke-width="0.18">0</text>
<text id="nA1" x="67.44" y="187.84" font-size="8.60" text-anchor="middle" font-weight="normal" fill="#262626" textLength="24.58" lengthAdjust="spacingAndGlyphs" stroke="#262626" stroke-width="0.18">n = 11</text>
<text id="nA2" x="103.72" y="187.47" font-size="8.60" text-anchor="middle" font-weight="normal" fill="#262626" textLength="20.91" lengthAdjust="spacingAndGlyphs" stroke="#262626" stroke-width="0.18">n = 6</text>
<text id="nA3" x="139.23" y="187.80" font-size="8.60" text-anchor="middle" font-weight="normal" fill="#262626" textLength="25.23" lengthAdjust="spacingAndGlyphs" stroke="#262626" stroke-width="0.18">n = 31</text>
<text id="nB1" x="244.44" y="186.46" font-size="8.60" text-anchor="middle" font-weight="normal" fill="#262626" textLength="24.58" lengthAdjust="spacingAndGlyphs" stroke="#262626" stroke-width="0.18">n = 11</text>
<text id="nB2" x="280.23" y="186.24" font-size="8.60" text-anchor="middle" font-weight="normal" fill="#262626" textLength="21.04" lengthAdjust="spacingAndGlyphs" stroke="#262626" stroke-width="0.18">n = 6</text>
<text id="nB3" x="315.59" y="185.96" font-size="8.60" text-anchor="middle" font-weight="normal" fill="#262626" textLength="25.20" lengthAdjust="spacingAndGlyphs" stroke="#262626" stroke-width="0.18">n = 31</text>
<text id="nC1" x="412.46" y="185.99" font-size="8.60" text-anchor="middle" font-weight="normal" fill="#262626" textLength="25.16" lengthAdjust="spacingAndGlyphs" stroke="#262626" stroke-width="0.18">n = 11</text>
<text id="nC2" x="448.27" y="186.31" font-size="8.60" text-anchor="middle" font-weight="normal" fill="#262626" textLength="20.73" lengthAdjust="spacingAndGlyphs" stroke="#262626" stroke-width="0.18">n = 6</text>
<text id="nC3" x="483.98" y="186.38" font-size="8.60" text-anchor="middle" font-weight="normal" fill="#262626" textLength="25.67" lengthAdjust="spacingAndGlyphs" stroke="#262626" stroke-width="0.18">n = 35</text>
<text id="nD" x="103.62" y="403.00" font-size="8.60" text-anchor="middle" font-weight="normal" fill="#262626" textLength="24.86" lengthAdjust="spacingAndGlyphs" stroke="#262626" stroke-width="0.18">n = 19</text>
<text id="nsA" x="85.13" y="109.54" font-size="7.80" text-anchor="middle" font-weight="normal" fill="#262626" textLength="9.22" lengthAdjust="spacingAndGlyphs" stroke="#262626" stroke-width="0.18">ns</text>
<text id="nsB" x="261.75" y="97.08" font-size="7.80" text-anchor="middle" font-weight="normal" fill="#262626" textLength="9.81" lengthAdjust="spacingAndGlyphs" stroke="#262626" stroke-width="0.18">ns</text>
<text id="nsC" x="429.93" y="115.65" font-size="7.80" text-anchor="middle" font-weight="normal" fill="#262626" textLength="9.47" lengthAdjust="spacingAndGlyphs" stroke="#262626" stroke-width="0.18">ns</text>
<text id="trach" x="104.43" y="228.09" font-size="10.00" text-anchor="middle" font-weight="normal" fill="#222" textLength="76.67" lengthAdjust="spacingAndGlyphs" stroke="#222" stroke-width="0.18">Tracheal aspirate</text>
<text id="xTXB" x="68.50" y="391.50" font-size="8.20" text-anchor="middle" font-weight="normal" fill="#262626" stroke="#262626" stroke-width="0.18">TXB<tspan font-size="6.5" dy="2">2</tspan></text>
<text id="xPF4" x="103.77" y="391.75" font-size="8.20" text-anchor="middle" font-weight="normal" fill="#262626" stroke="#262626" stroke-width="0.18">PF4</text>
<text id="xPDGF" x="139.26" y="391.88" font-size="8.20" text-anchor="middle" font-weight="normal" fill="#262626" stroke="#262626" stroke-width="0.18">PDGF</text>
<text id="legC" x="226.16" y="282.57" font-size="8.80" text-anchor="start" font-weight="normal" fill="#222" textLength="28.30" lengthAdjust="spacingAndGlyphs" stroke="#222" stroke-width="0.18">Control</text>
<text id="legA" x="226.14" y="300.48" font-size="8.80" text-anchor="start" font-weight="normal" fill="#222" textLength="51.34" lengthAdjust="spacingAndGlyphs" stroke="#222" stroke-width="0.18">Asymptomatic</text>
<text id="legM" x="225.83" y="316.63" font-size="8.80" text-anchor="start" font-weight="normal" fill="#222" textLength="16.43" lengthAdjust="spacingAndGlyphs" stroke="#222" stroke-width="0.18">Mild</text>
<text id="legS" x="225.72" y="335.28" font-size="8.80" text-anchor="start" font-weight="normal" fill="#222" textLength="25.29" lengthAdjust="spacingAndGlyphs" stroke="#222" stroke-width="0.18">Severe</text>
<text id="yA" x="0" y="0" font-size="9.60" fill="#262626" text-anchor="middle" textLength="68.50" lengthAdjust="spacingAndGlyphs" stroke="#262626" stroke-width="0.18" transform="translate(19.30,102.35) rotate(-90)">CD41<tspan font-size="7.6" dy="-2.6">+</tspan><tspan dy="2.6">CD62P</tspan><tspan font-size="7.6" dy="-2.6">+</tspan><tspan dy="2.6"> (%)</tspan></text>
<text id="yB" x="0" y="0" font-size="9.60" fill="#262626" text-anchor="middle" textLength="65.75" lengthAdjust="spacingAndGlyphs" stroke="#262626" stroke-width="0.18" transform="translate(195.40,100.07) rotate(-90)">CD41<tspan font-size="7.6" dy="-2.6">+</tspan><tspan dy="2.6">CD63</tspan><tspan font-size="7.6" dy="-2.6">+</tspan><tspan dy="2.6"> (%)</tspan></text>
<text id="yC" x="0" y="0" font-size="9.40" fill="#262626" text-anchor="middle" textLength="48.10" lengthAdjust="spacingAndGlyphs" stroke="#262626" stroke-width="0.18" transform="translate(361.90,100.06) rotate(-90)">TXB<tspan font-size="6.8" dy="2.4">2</tspan><tspan dy="-2.4"> (ng/mL)</tspan></text>
<text id="yD" x="0" y="0" font-size="9.60" fill="#262626" text-anchor="middle" textLength="61.21" lengthAdjust="spacingAndGlyphs" stroke="#262626" stroke-width="0.18" transform="translate(19.90,305.59) rotate(-90)">ng/mg of protein</text>
</svg>
</body></html>
